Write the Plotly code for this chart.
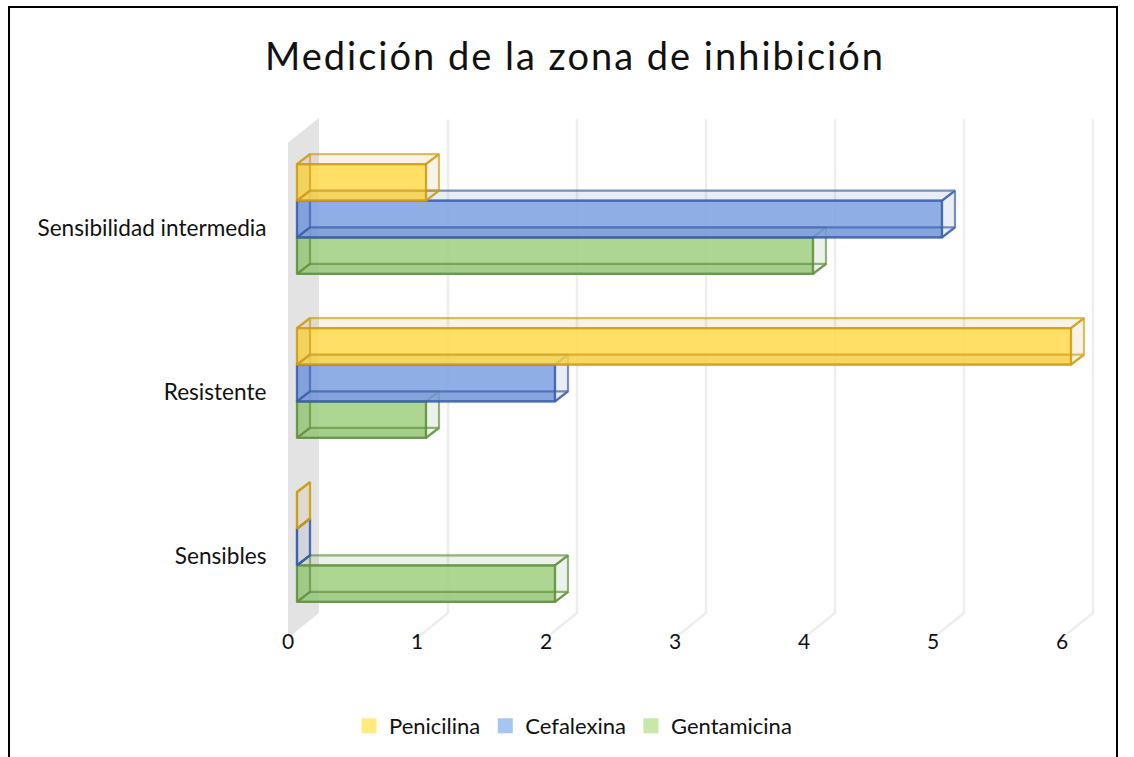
import plotly.graph_objects as go

# values
categories = ["Sensibles", "Resistente", "Sensibilidad intermedia"]
penicilina = [0, 6, 1]
cefalexina = [0, 2, 5]
gentamicina = [2, 1, 4]
x_ticks = [0, 1, 2, 3, 4, 5, 6]

W, H = 1134, 757
L, R, T, B = 288, 1110, 100, 640   # plot area in px
PX_X = 129.0    # px per value unit
PX_Y = 164.0    # px per category

# fake 3D offsets, in axis units
WALL_DX, WALL_DY = 31 / PX_X, 25 / PX_Y
BAR_DX, BAR_DY = 9 / PX_X, 9 / PX_Y
DEPTH_DX, DEPTH_DY = 13 / PX_X, 10 / PX_Y
BAR_H = 36.6 / PX_Y
Y_LOW, Y_HIGH = -0.5, 2.52
X_RANGE = [0, (R - L) / PX_X]
Y_RANGE = [2 - (B - 228) / PX_Y, 2 + (228 - T) / PX_Y]

# name, values, slot in group, front fill, edge, side faces, legend colour
series = [
    ("Gentamicina", gentamicina, -1.0, "rgba(159,207,127,0.85)", "rgba(95,145,60,0.68)", "rgba(110,140,90,0.12)", "#c6e8a9"),
    ("Cefalexina", cefalexina, 0.0, "rgba(123,160,225,0.85)", "rgba(55,95,175,0.68)", "rgba(80,105,165,0.12)", "#a6c5f0"),
    ("Penicilina", penicilina, 1.0, "rgba(255,217,75,0.85)", "rgba(205,155,15,0.65)", "rgba(190,160,70,0.12)", "#ffeb7f"),
]

fig = go.Figure()

# side wall at zero
fig.add_trace(go.Scatter(
    x=[0, WALL_DX, WALL_DX, 0, 0],
    y=[Y_LOW, Y_LOW + WALL_DY, Y_HIGH + WALL_DY, Y_HIGH, Y_LOW],
    mode="lines", fill="toself", fillcolor="#e3e3e3", line=dict(width=0),
    showlegend=False, hoverinfo="skip", cliponaxis=False,
))

# gridlines: floor slant plus back wall vertical
for t in x_ticks[1:]:
    fig.add_trace(go.Scatter(
        x=[t, t + WALL_DX, t + WALL_DX],
        y=[Y_LOW, Y_LOW + WALL_DY, Y_HIGH + WALL_DY - 0.01],
        mode="lines", line=dict(color="rgba(0,0,0,0.07)", width=2.5),
        showlegend=False, hoverinfo="skip", cliponaxis=False,
    ))

# every series sits on its own overlaid axes so the top one covers the ones below
for i, (name, values, slot, fill, edge, face, swatch) in enumerate(series):
    xa, ya = "x%d" % (i + 2), "y%d" % (i + 2)
    fig.add_trace(go.Bar(
        y=list(range(len(categories))), x=values, base=BAR_DX, orientation="h", name=name,
        width=BAR_H, offset=(slot - 0.5) * BAR_H + BAR_DY,
        marker=dict(color=fill, line=dict(color=edge, width=2.2)),
        showlegend=False, xaxis=xa, yaxis=ya,
    ))

    # side faces of the box, built from the values; their far edges outline the back
    xs, ys = [], []
    for c, v in enumerate(values):
        x0, x1 = BAR_DX, v + BAR_DX
        y0 = c + (slot - 0.5) * BAR_H + BAR_DY
        y1 = y0 + BAR_H
        dx, dy = DEPTH_DX, DEPTH_DY
        polys = [
            [(x0, y1), (x1, y1), (x1 + dx, y1 + dy), (x0 + dx, y1 + dy)],  # top
            [(x1, y0), (x1 + dx, y0 + dy), (x1 + dx, y1 + dy), (x1, y1)],  # right
            [(x0, y0), (x1, y0), (x1 + dx, y0 + dy), (x0 + dx, y0 + dy)],  # bottom
            [(x0, y0), (x0 + dx, y0 + dy), (x0 + dx, y1 + dy), (x0, y1)],  # left
        ]
        for p in polys:
            xs += [q[0] for q in p] + [p[0][0], None]
            ys += [q[1] for q in p] + [p[0][1], None]
    fig.add_trace(go.Scatter(
        x=xs, y=ys, mode="lines", fill="toself", fillcolor=face,
        line=dict(color=edge, width=2.2), showlegend=False, hoverinfo="skip",
        xaxis=xa, yaxis=ya,
    ))

# legend entries, lighter than the bars as in the original
for name, values, slot, fill, edge, face, swatch in reversed(series):
    fig.add_trace(go.Scatter(
        x=[None], y=[None], mode="markers", name=name,
        marker=dict(symbol="square", size=15, color=swatch),
    ))

hidden = dict(range=X_RANGE, visible=False, overlaying="x")
hidden_y = dict(range=Y_RANGE, visible=False, overlaying="y")

fig.update_layout(
    width=W, height=H, autosize=False,
    margin=dict(l=L, r=W - R, t=T, b=H - B, pad=0),
    paper_bgcolor="white", plot_bgcolor="white",
    barmode="overlay",
    font=dict(family="Lato", color="#111111", size=22),
    title=dict(text="Medición de la zona de inhibición", x=575 / W, xanchor="center",
               y=1 - 57 / H, yanchor="middle", font=dict(size=38, family="Lato", color="#111111")),
    xaxis=dict(range=X_RANGE, tickvals=x_ticks, showgrid=False, zeroline=False,
               showline=False, ticks="", ticklabelstandoff=-13, tickfont=dict(size=21)),
    yaxis=dict(range=Y_RANGE, tickvals=list(range(len(categories))),
               ticktext=categories, showgrid=False, zeroline=False, showline=False,
               ticks="outside", ticklen=16, tickcolor="rgba(0,0,0,0)", tickfont=dict(size=22.6)),
    xaxis2=hidden, xaxis3=hidden, xaxis4=hidden,
    yaxis2=hidden_y, yaxis3=hidden_y, yaxis4=hidden_y,
    legend=dict(orientation="h", x=0.5 + 6 / W, xref="container", xanchor="center", y=1 - 726 / H,
                yref="container", yanchor="middle", traceorder="normal", font=dict(size=22)),
    # outer frame of the pasted chart
    shapes=[dict(type="path", xref="paper", yref="paper", line=dict(color="black", width=2),
                 path="M {a},{b} L {a},{c} L {d},{c} L {d},{b}".format(
                     a=(9 - L) / (R - L), b=(B - H) / (B - T), c=(B - 7) / (B - T), d=(1117 - L) / (R - L)))],
)

# page margin off, title letter spacing as in the original
post = ("document.body.style.margin='0';"
        "document.querySelectorAll('.gtitle').forEach(function(e){e.style.letterSpacing='2px';});")
fig.write_html("out.html", post_script=post, config=dict(displayModeBar=False))
